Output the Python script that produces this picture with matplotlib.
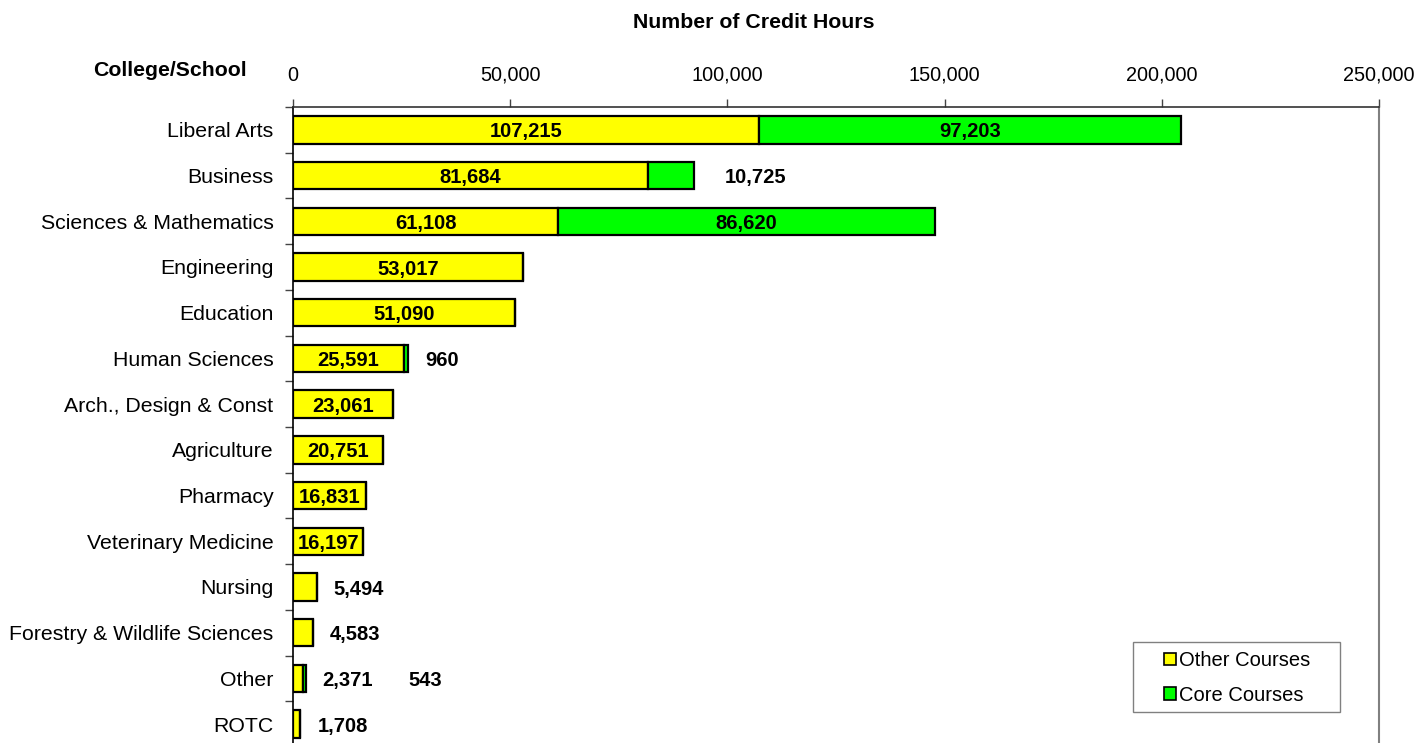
import numpy as np
import matplotlib
matplotlib.use("Agg")
import matplotlib.pyplot as plt
from matplotlib.patches import Rectangle
from matplotlib.ticker import FuncFormatter, FixedLocator

plt.rcParams["font.family"] = ["Liberation Sans", "DejaVu Sans"]

colleges = [
    "Liberal Arts", "Business", "Sciences & Mathematics", "Engineering",
    "Education", "Human Sciences", "Arch., Design & Const", "Agriculture",
    "Pharmacy", "Veterinary Medicine", "Nursing",
    "Forestry & Wildlife Sciences", "Other", "ROTC",
]
other_courses = [107215, 81684, 61108, 53017, 51090, 25591, 23061, 20751,
                 16831, 16197, 5494, 4583, 2371, 1708]
core_courses = [97203, 10725, 86620, 0, 0, 960, 0, 0, 0, 0, 0, 0, 543, 0]
x_ticks = [0, 50000, 100000, 150000, 200000, 250000]

W, H = 1420, 743
fig = plt.figure(figsize=(W / 100, H / 100), dpi=100)
# axes box in pixels: left 293, right 1379, top 107, bottom 747 (just off the image)
ax = fig.add_axes([293 / W, (H - 747) / H, (1379 - 293) / W, (747 - 107) / H])

y = np.arange(len(colleges))
other = np.array(other_courses)
core = np.array(core_courses)

ax.barh(y, other, height=0.6, color="#FFFF00", edgecolor="black", linewidth=1.6,
        label="Other Courses")
ax.barh(y, core, left=other, height=0.6, color="#00FF00", edgecolor="black",
        linewidth=1.6, label="Core Courses")

ax.set_xlim(0, 250000)
ax.set_ylim(len(colleges) - 0.5, -0.5)

# x axis on top
ax.xaxis.set_ticks_position("top")
ax.xaxis.set_label_position("top")
ax.set_xticks(x_ticks)
ax.xaxis.set_major_formatter(FuncFormatter(lambda v, p: f"{int(v):,}"))
ax.tick_params(axis="x", which="major", direction="out", length=6, width=1,
               color="#444444", labelsize=14.3, pad=10)

# y axis: labels at centres, tick marks at category boundaries
ax.set_yticks(y)
ax.set_yticklabels(colleges)
ax.yaxis.set_minor_locator(FixedLocator(np.arange(-0.5, len(colleges), 1.0)))
ax.tick_params(axis="y", which="major", length=0, labelsize=15.3, pad=14)
ax.tick_params(axis="y", which="minor", length=6, width=1, color="#444444")

ax.spines["bottom"].set_visible(False)
ax.spines["left"].set_color("black")
ax.spines["left"].set_linewidth(1.2)
ax.spines["top"].set_color("#333333")
ax.spines["top"].set_linewidth(1.2)
ax.spines["right"].set_color("#808080")
ax.spines["right"].set_linewidth(1.5)

# value labels
lbl = dict(fontsize=14.5, fontweight="bold", va="center_baseline")
core_offsets = {1: 30, 5: 17, 12: 103}
for i, (o, c) in enumerate(zip(other, core)):
    end = o + c
    if o >= 16000:
        ax.text(o / 2, i, f"{o:,}", ha="center", **lbl)
    else:
        ax.annotate(f"{o:,}", (end, i), xytext=(17, 0), textcoords="offset pixels",
                    ha="left", **lbl)
    if c > 0:
        if c >= 50000:
            ax.text(o + c / 2, i, f"{c:,}", ha="center", **lbl)
        else:
            ax.annotate(f"{c:,}", (end, i), xytext=(core_offsets.get(i, 17), 0),
                        textcoords="offset pixels", ha="left", **lbl)

fig.text(754 / W, 1 - 22 / H, "Number of Credit Hours", ha="center", va="center",
         fontsize=15.3, fontweight="bold")
fig.text(170 / W, 1 - 71 / H, "College/School", ha="center", va="center",
         fontsize=15.3, fontweight="bold")

# legend: frame drawn separately, entries placed inside it
fig.patches.append(Rectangle((1133 / W, 1 - 712 / H), (1340 - 1133) / W, 70 / H,
                             transform=fig.transFigure, facecolor="white",
                             edgecolor="#808080", linewidth=1, zorder=5))
leg = fig.legend(loc="upper left", bbox_to_anchor=(1164 / W, 1 - 651 / H),
                 frameon=False, fontsize=14.5, handlelength=0.6,
                 handleheight=0.6, handletextpad=0.15, labelspacing=0.78,
                 borderpad=0, borderaxespad=0)
leg.set_zorder(6)
for h in leg.legend_handles:
    h.set_linewidth(1.2)

fig.savefig("out.png", dpi=100)
